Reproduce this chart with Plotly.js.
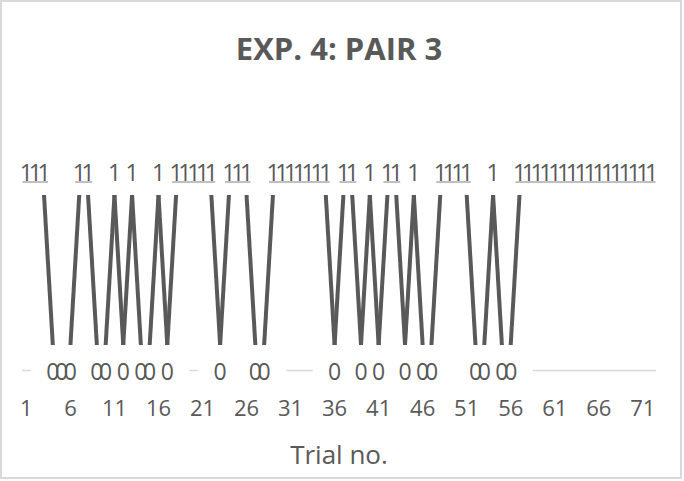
<!DOCTYPE html>
<html><head><meta charset="utf-8">
<script src="https://cdn.plot.ly/plotly-3.0.1.min.js"></script>
<style>html,body{margin:0;padding:0;background:#fff}#chart{width:684px;height:481px}</style>
</head><body><div id="chart"></div>
<script>
const trials = [1,2,3,4,5,6,7,8,9,10,11,12,13,14,15,16,17,18,19,20,21,22,23,24,25,26,27,28,29,30,31,32,33,34,35,36,
  37,38,39,40,41,42,43,44,45,46,47,48,49,50,51,52,53,54,55,56,57,58,59,60,61,62,63,64,65,66,67,68,69,70,71,72];
const choices = [1,1,1,0,0,0,1,1,0,0,1,0,1,0,0,1,0,1,1,1,1,1,0,1,1,1,0,0,1,1,1,1,1,1,1,0,
  1,1,0,1,0,1,1,0,1,0,0,1,1,1,1,0,0,1,0,0,1,1,1,1,1,1,1,1,1,1,1,1,1,1,1,1];
const tickTrials = [1,6,11,16,21,26,31,36,41,46,51,56,61,66,71];
const tickLabels = ['1','6','11','16','21','26','31','36','41','46','51','56','61','66','71'];
const chartTitle = 'EXP. 4: PAIR 3';
const xTitle = 'Trial no.';

const n = trials.length;
const T = 150, B = 390, H = B - T;
function rangeFor(p0, p1) { const d = H / (p0 - p1); const r0 = -d * (B - p0) / H; return [r0, r0 + d]; }

// switching segments (thick)
const dX = [], dY = [];
for (let i = 0; i < n - 1; i++) {
  if (choices[i] !== choices[i + 1]) { dX.push(trials[i], trials[i + 1], null); dY.push(choices[i], choices[i + 1], null); }
}
// runs of consecutive 1s (thin line under the labels)
const pad = 0.45;
const uX = [], uY = [];
for (let i = 0; i < n;) {
  if (choices[i] === 1) {
    let j = i; while (j + 1 < n && choices[j + 1] === 1) j++;
    if (j > i) { uX.push(trials[i] - pad, trials[j] + pad, null); uY.push(1, 1, null); }
    i = j + 1;
  } else i++;
}
// baseline, hidden behind the 0 labels
const zeros = trials.filter((t, k) => choices[k] === 0);
const lo = trials[0] - 0.5, hi = trials[n - 1] + 0.5, half = 2.5;
const bX = [], bY = [];
let cur = lo;
for (const z of zeros) { const a = z - half; if (a > cur) { bX.push(cur, a, null); bY.push(0, 0, null); } cur = Math.max(cur, z + half); }
if (hi > cur) { bX.push(cur, hi, null); bY.push(0, 0, null); }

const ones = trials.filter((t, k) => choices[k] === 1);
const gray = '#595959';
const lblFont = { family: 'Open Sans, sans-serif', size: 23, color: gray };

const data = [
  { x: bX, y: bY, yaxis: 'y2', mode: 'lines', line: { color: '#d9d9d9', width: 1.5 }, hoverinfo: 'skip', cliponaxis: false },
  { x: uX, y: uY, yaxis: 'y2', mode: 'lines', line: { color: '#808080', width: 1 }, hoverinfo: 'skip', cliponaxis: false },
  { x: dX, y: dY, yaxis: 'y', mode: 'lines', line: { color: gray, width: 4 }, hoverinfo: 'skip' },
  { x: ones, y: ones.map(() => 1), yaxis: 'y3', mode: 'text', text: ones.map(() => '1'), textposition: 'middle center', textfont: lblFont, cliponaxis: false },
  { x: zeros, y: zeros.map(() => 0), yaxis: 'y3', mode: 'text', text: zeros.map(() => '0'), textposition: 'middle center', textfont: lblFont, cliponaxis: false }
];

const hiddenY = { showgrid: false, zeroline: false, showline: false, showticklabels: false, ticks: '', fixedrange: true };
const layout = {
  width: 684, height: 481,
  margin: { l: 22, r: 28, t: T, b: 481 - B, pad: 0 },
  paper_bgcolor: '#ffffff', plot_bgcolor: '#ffffff',
  showlegend: false,
  font: { family: 'Open Sans, sans-serif', color: gray },
  title: { text: chartTitle, font: { family: 'Open Sans, sans-serif', size: 31, weight: 'bold', color: gray },
           x: 0.5, xanchor: 'center', xref: 'paper', yref: 'container', y: 1 - 49 / 481, yanchor: 'middle' },
  xaxis: { range: [lo, hi], tickmode: 'array', tickvals: tickTrials, ticktext: tickLabels,
           showgrid: false, zeroline: false, showline: false, ticks: '', ticklabelstandoff: 3,
           tickfont: { family: 'Open Sans, sans-serif', size: 22, color: gray },
           title: { text: xTitle, font: { family: 'Open Sans, sans-serif', size: 26, color: gray }, standoff: 24 } },
  yaxis: Object.assign({ range: rangeFor(345, 195) }, hiddenY),
  yaxis2: Object.assign({ range: rangeFor(370.5, 182), overlaying: 'y' }, hiddenY),
  yaxis3: Object.assign({ range: rangeFor(374.5, 175.5), overlaying: 'y' }, hiddenY),
  shapes: [{ type: 'rect', xref: 'paper', yref: 'paper', x0: -21 / 634, x1: 659 / 634, y0: (B - 478) / H, y1: (B - 1) / H,
             line: { color: '#d9d9d9', width: 2 }, fillcolor: 'rgba(0,0,0,0)' }]
};
Plotly.newPlot('chart', data, layout, { displayModeBar: false, staticPlot: true });
</script></body></html>
